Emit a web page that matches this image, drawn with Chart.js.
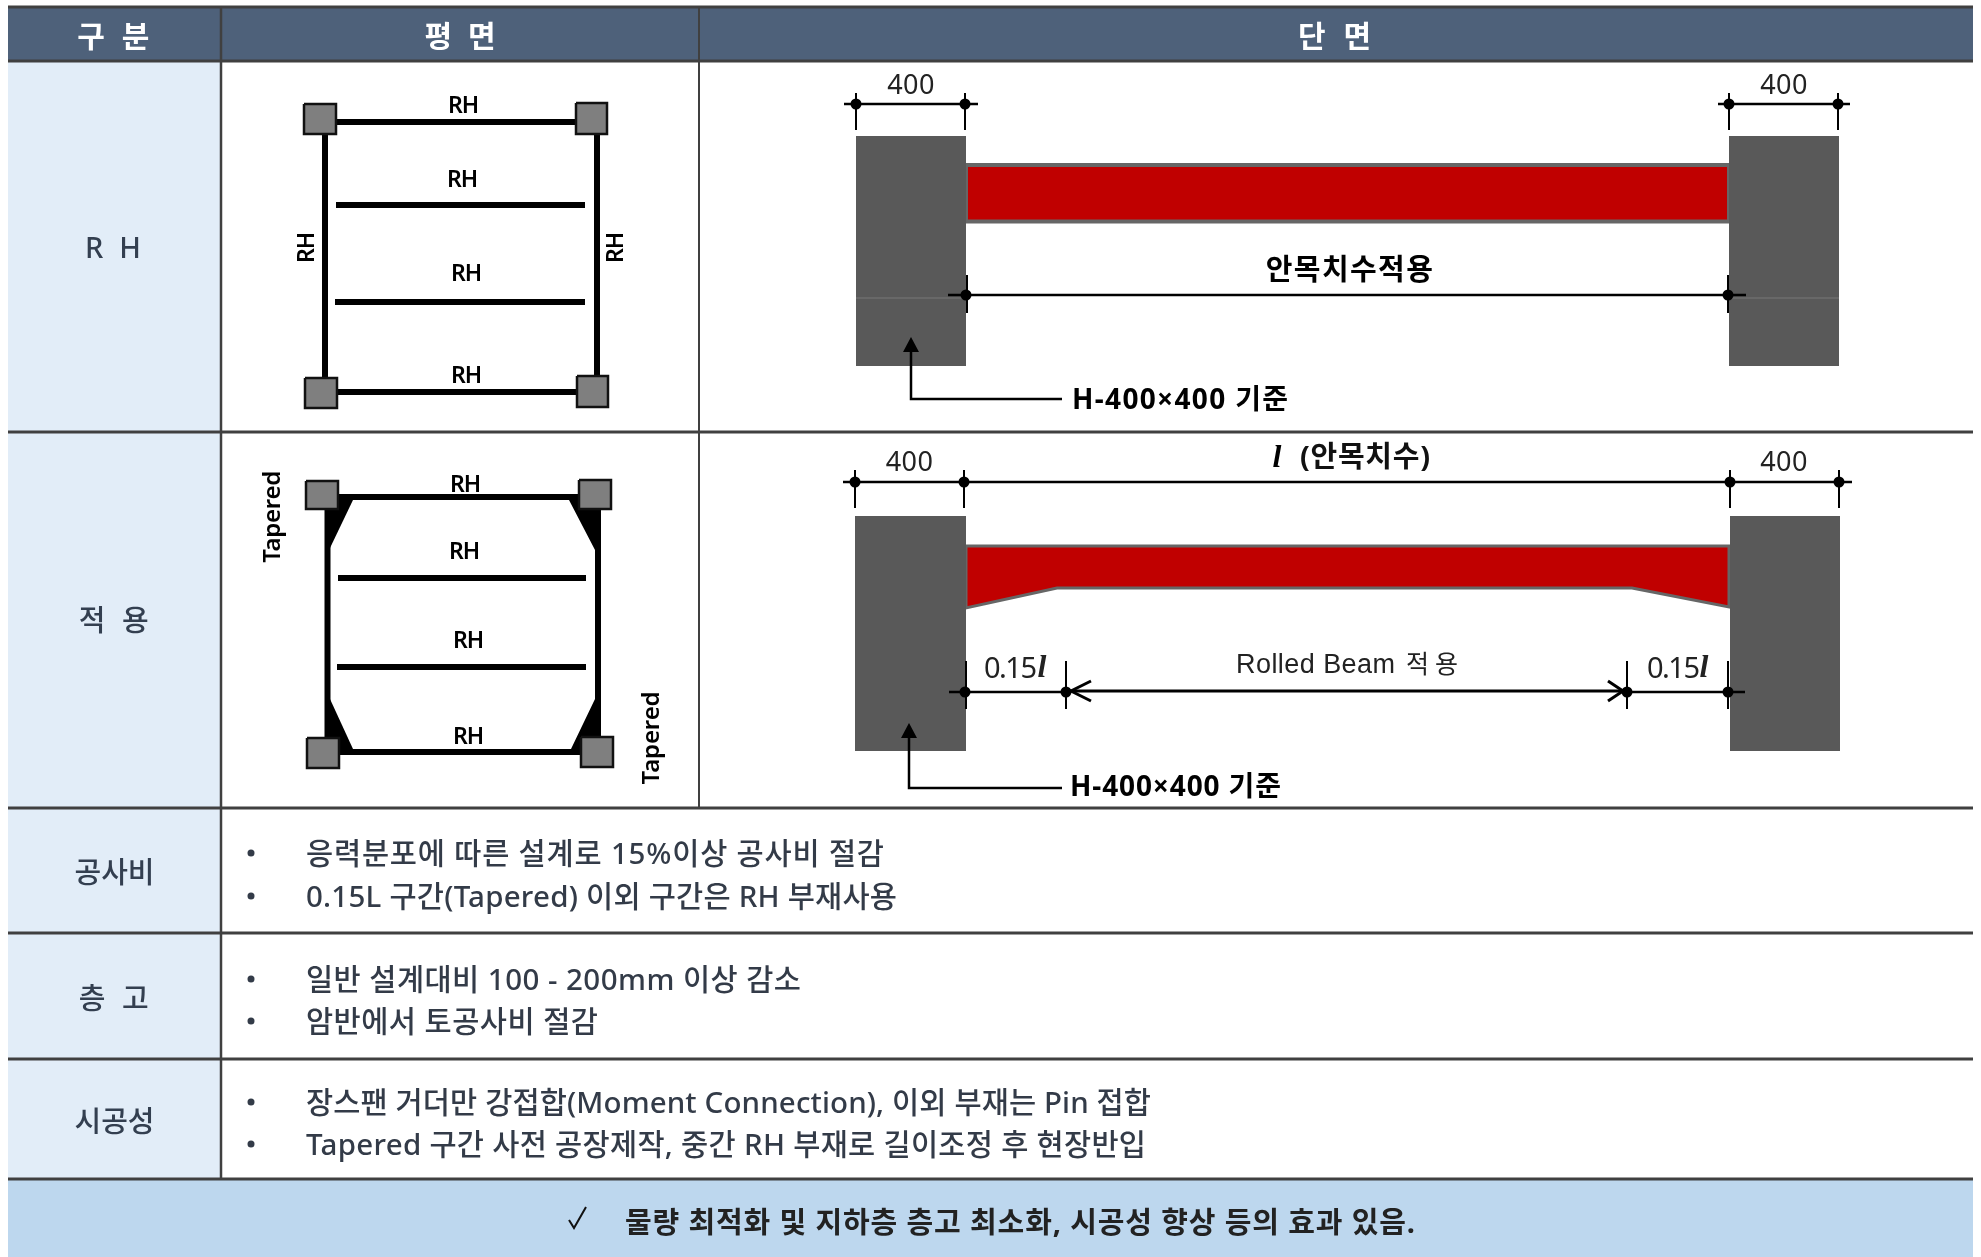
<!DOCTYPE html>
<html><head><meta charset="utf-8">
<style>html,body{margin:0;padding:0;background:#fff}canvas{display:block}</style>
<script src="https://cdn.jsdelivr.net/npm/chart.js@4"></script>
</head><body><canvas id="c" width="1981" height="1257"></canvas>
<script>
// ---------- text ----------
const headerLabels = ['구 분', '평 면', '단 면'];
const rowLabels = ['R H', '적 용', '공사비', '층 고', '시공성'];
const bulletLines = [
  '응력분포에 따른 설계로 15%이상 공사비 절감',
  '0.15L 구간(Tapered) 이외 구간은 RH 부재사용',
  '일반 설계대비 100 - 200mm 이상 감소',
  '암반에서 토공사비 절감',
  '장스팬 거더만 강접합(Moment Connection), 이외 부재는 Pin 접합',
  'Tapered 구간 사전 공장제작, 중간 RH 부재로 길이조정 후 현장반입'
];
const bannerText = '물량 최적화 및 지하층 층고 최소화, 시공성 향상 등의 효과 있음.';

// ---------- table geometry (values on the 0-1981 / 0-1257 axes) ----------
const rowEdges = [7, 61, 432, 808, 933, 1059, 1179, 1257];
const tableX = [8, 221, 699, 1973];
const bulletY = [853, 896, 979, 1021, 1102, 1144];
const bulletWidths = [578, 591, 495, 292, 845, 840];

// ---------- plan drawings ----------
const planColumnsRH = [[304,104,336,134],[576,103,607,134],[305,378,337,408],[577,376,608,407]];
const planBeamsRH = [[336,122,576,122],[336,392,577,392],[325,134,325,378],[597,134,597,376],[336,205,585,205],[335,302,585,302]];
const planColumnsTapered = [[306,481,338,509],[579,480,611,509],[307,738,339,768],[581,737,613,767]];
const planBeamsTapered = [[338,497,579,497],[339,752,581,752],[327.5,509,327.5,738],[598,509,598,737],[338,578,586,578],[337,667,586,667]];
const planHaunches = [
  [[325,494],[353,500],[330,548],[325,548]],
  [[569,500],[601,494],[601,550],[595,550]],
  [[325,699],[330,699],[353,749],[325,755]],
  [[595,699],[601,699],[601,755],[571,749]]
];

// ---------- section drawings ----------
const sectionColumns = [[856,136,966,366],[1729,136,1839,366],[855,516,966,751],[1730,516,1840,751]];
const sectionSeams = [[856,298,966,298],[1729,298,1839,298]];
const beamStraight = [[966,165],[1729,165],[1729,221.5],[966,221.5]];
const beamTapered = [[966,546],[1729,546],[1729,607],[1632,588],[1057,588],[966,608]];
const dimLines = [
  [844,104,978,104],[1718,104,1850,104],[948,295,1746,295],
  [843,482,1852,482],[949,692,1066,692],[1627,692,1745,692]
];
const dimLineMain = [[1066,691,1627,691]];
const dimTicks = [
  [856,93,856,130],[965,93,965,130],[1729,93,1729,130],[1838,93,1838,130],
  [967,275,967,313],[1728,275,1728,313],
  [855,470,855,508],[964,470,964,508],[1730,470,1730,508],[1839,470,1839,508],
  [966,661,966,709],[1066,661,1066,709],[1627,661,1627,709],[1728,661,1728,709]
];
const dimDots = [
  [856,104],[965,104],[1729,104],[1838,104],[966,295],[1728,295],
  [855,482],[964,482],[1730,482],[1839,482],[965,692],[1066,692],[1627,692],[1728,692]
];
const arrowChevrons = [
  [[1091,681],[1071,691],[1091,701]],
  [[1608,681],[1623,691],[1608,701]]
];
const leaderLines = [
  [[911,350],[911,399],[1062,399]],
  [[909,737],[909,788],[1062,788]]
];
const leaderHeads = [
  [[903,352],[911,337],[919,352]],
  [[901,738],[909,723],[917,738]]
];
const bannerCheck = [[569,1220],[574,1228],[586,1207]];

// ---------- colours ----------
const HEADER = '#4E617A', ROWBG = '#E2EDF8', BANNER = '#BDD7EE', GRID = '#404040',
      COLUMN = '#595959', RED = '#C00000', INK = '#000000', PLANCOL = '#7F7F7F',
      TEXT = '#333B48', LABEL = '#333F50';
const KR = '"Noto Sans","Noto Sans CJK KR",sans-serif';
const BASELINE_SHIFT = 3;

const rect = r => [[r[0],r[1]],[r[2],r[1]],[r[2],r[3]],[r[0],r[3]]];
const seg = s => [[s[0],s[1]],[s[2],s[3]]];
const ds = [];
function path(pts, o) {
  ds.push({
    data: pts.map(p => ({x:p[0], y:p[1]})),
    showLine: true, tension: 0, pointRadius: 0, pointHoverRadius: 0,
    borderColor: o.stroke || 'transparent', borderWidth: o.w || 0,
    borderCapStyle: 'butt', borderJoinStyle: 'miter',
    backgroundColor: o.fill || 'transparent',
    fill: o.fill ? 'shape' : false
  });
}
function dots(pts, r, color) {
  ds.push({
    data: pts.map(p => ({x:p[0], y:p[1]})),
    showLine: false, pointRadius: r, pointHoverRadius: r,
    pointBackgroundColor: color, pointBorderColor: color, pointBorderWidth: 0
  });
}

// table backgrounds
path(rect([tableX[0],rowEdges[0],tableX[3],rowEdges[1]]), {fill:HEADER});
path(rect([tableX[0],rowEdges[1],tableX[1],rowEdges[6]]), {fill:ROWBG});
path(rect([tableX[0],rowEdges[6],tableX[3],rowEdges[7]]), {fill:BANNER});

// sections
path(beamStraight.concat([beamStraight[0]]), {fill:RED, stroke:'#666666', w:4});
path(beamTapered.concat([beamTapered[0]]), {fill:RED, stroke:'#666666', w:3});
sectionColumns.forEach(r => path(rect(r), {fill:COLUMN}));
sectionSeams.forEach(s => path(seg(s), {stroke:'#6E6E6E', w:1.5}));
dimLines.forEach(s => path(seg(s), {stroke:INK, w:2.5}));
dimLineMain.forEach(s => path(seg(s), {stroke:INK, w:3}));
dimTicks.forEach(s => path(seg(s), {stroke:INK, w:2}));
dots(dimDots, 5.5, INK);
arrowChevrons.forEach(p => path(p, {stroke:INK, w:3}));
leaderLines.forEach(p => path(p, {stroke:INK, w:2.5}));
leaderHeads.forEach(p => path(p, {fill:INK}));

// plans
planBeamsRH.concat(planBeamsTapered).forEach(s => path(seg(s), {stroke:INK, w:6}));
planHaunches.forEach(p => path(p, {fill:INK}));
planColumnsRH.concat(planColumnsTapered).forEach(r => path(rect(r).concat([rect(r)[0]]), {fill:PLANCOL, stroke:'#111111', w:2.5}));

// grid lines
rowEdges.slice(0,7).forEach(y => path([[tableX[0],y],[tableX[3],y]], {stroke:GRID, w:3}));
path([[tableX[1],rowEdges[0]],[tableX[1],rowEdges[6]]], {stroke:GRID, w:2.5});
path([[tableX[2],rowEdges[0]],[tableX[2],rowEdges[3]]], {stroke:GRID, w:2});

// bullets and check mark
dots(bulletY.map(y => [251,y]), 3.5, '#333B48');
path(bannerCheck, {stroke:'#111111', w:2});

// ---------- text placement ----------
const T = [];
function txt(t,x,y,size,o={}) { T.push(Object.assign({t,x,y,size,weight:400,color:INK,align:'center'},o)); }
const HDR = {weight:600,color:'#FFFFFF'};
txt(headerLabels[0],115.5,35,30,{...HDR,w:72});
txt(headerLabels[1],462,35,30,{...HDR,w:71});
txt(headerLabels[2],1337,35,30,{...HDR,w:73});
const rowX = [115,116,114.5,116,114.5], rowY = [247,620,872,998,1121], rowW = [56,70,80,70,80];
rowLabels.forEach((s,i)=>txt(s,rowX[i],rowY[i],29,{color:LABEL,weight:500,w:rowW[i]}));
bulletLines.forEach((s,i)=>txt(s,306,bulletY[i],29.5,{color:TEXT,weight:500,align:'left',w:bulletWidths[i]}));
txt(bannerText,625,1222,29,{weight:700,color:'#222222',align:'left',w:790});
const RH = {weight:600,w:31};
[[463,103],[462,177],[466,271],[466,373],[465,482],[464,549],[468,638],[468,734]].forEach(p=>txt('RH',p[0],p[1],23,RH));
txt('RH',304,248,23,{...RH,rot:-90}); txt('RH',613,248,23,{...RH,rot:-90});
txt('Tapered',270,517,24,{weight:600,rot:-90,w:92});
txt('Tapered',649,738,24,{weight:600,rot:-90,w:93});
[[911,83],[1784,83],[909.5,460],[1784,460]].forEach(p=>txt('400',p[0],p[1],27,{color:'#222222',w:47}));
txt('안목치수적용',1350,269,29,{weight:700,w:167});
txt('H-400×400 기준',1072,398,28,{weight:700,align:'left',w:216});
txt('H-400×400 기준',1070,785,28,{weight:700,align:'left',w:211});
txt('l',1277,456,32,{weight:700,family:'"Liberation Serif",serif',italic:true});
txt('(안목치수)',1300,456,29,{weight:700,align:'left',w:130,color:'#111111'});
txt('Rolled Beam',1236,663,27,{family:'"Liberation Sans",sans-serif',align:'left',w:159,color:'#222222'});
txt('적 용',1406,663,25,{align:'left',w:52,color:'#222222'});
txt('0.15',984,667,29,{align:'left',w:53,color:'#222222'});
txt('l',1042,666,32,{family:'"Liberation Serif",serif',italic:true,weight:700,color:'#222222'});
txt('0.15',1647,667,29,{align:'left',w:53,color:'#222222'});
txt('l',1704,666,32,{family:'"Liberation Serif",serif',italic:true,weight:700,color:'#222222'});

const textPlugin = {
  id:'diagramText',
  afterDatasetsDraw(chart){
    const c = chart.ctx, sx = chart.scales.x, sy = chart.scales.y;
    T.forEach(o=>{
      c.save();
      c.translate(sx.getPixelForValue(o.x), sy.getPixelForValue(o.y));
      if (o.rot) c.rotate(o.rot*Math.PI/180);
      c.font = `${o.italic?'italic ':''}${o.weight} ${o.size}px ${o.family||KR}`;
      c.fillStyle = o.color; c.textAlign = o.align; c.textBaseline = 'middle';
      c.letterSpacing = '0px';
      if (o.w) {
        const n = [...o.t].length;
        const gap = (o.w - c.measureText(o.t).width) / Math.max(1,n-1);
        c.letterSpacing = gap.toFixed(3)+'px';
      }
      c.fillText(o.t,0,BASELINE_SHIFT);
      c.restore();
    });
  }
};

ds.forEach((d,i)=>{ d.order = ds.length - i; });
new Chart(document.getElementById('c'),{
  type:'scatter',
  data:{datasets:ds},
  plugins:[textPlugin],
  options:{
    responsive:false, animation:false, devicePixelRatio:1,
    layout:{padding:0, autoPadding:false},
    plugins:{legend:{display:false},tooltip:{enabled:false}},
    events:[],
    scales:{
      x:{type:'linear',min:0,max:1981,display:false},
      y:{type:'linear',min:0,max:1257,reverse:true,display:false}
    }
  }
});
</script></body></html>
